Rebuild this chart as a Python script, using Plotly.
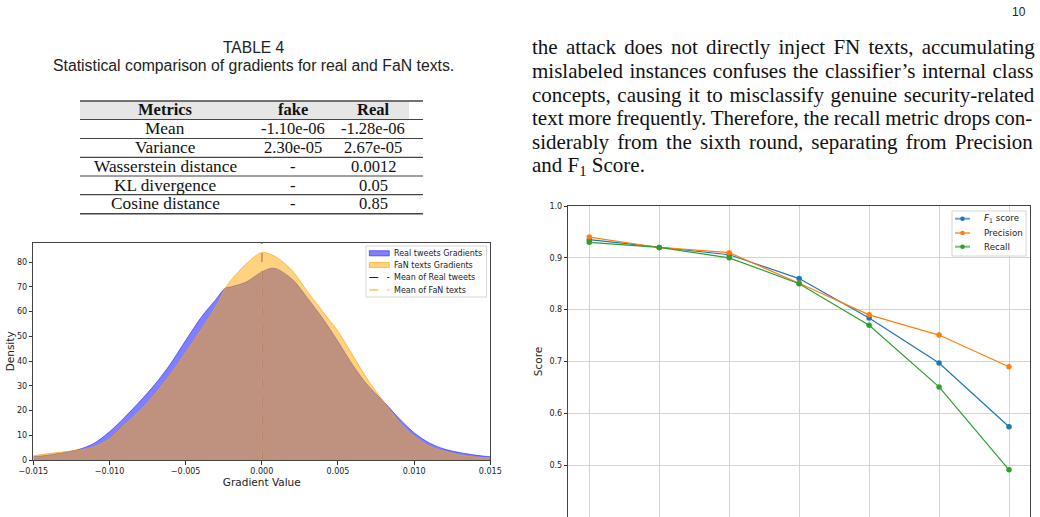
import plotly.graph_objects as go

# ---------------- data ----------------
grad_x = [-0.015, -0.014, -0.013, -0.012, -0.011, -0.010, -0.009, -0.008, -0.007, -0.006,
          -0.005, -0.004, -0.003, -0.0024, -0.002, -0.001, 0.000, 0.0008, 0.002, 0.003,
          0.004, 0.005, 0.006, 0.007, 0.008, 0.009, 0.010, 0.011, 0.012, 0.013, 0.014, 0.015]
real_density = [1.3, 2.0, 3.0, 4.3, 6.8, 11.4, 17.3, 23.7, 30.7, 38.8,
                 48.3, 57.5, 65.0, 69.4, 70.0, 72.0, 76.0, 77.5, 73.0, 65.4,
                 57.2, 47.9, 38.1, 29.9, 23.6, 16.9, 11.0, 6.9, 4.4, 3.0, 2.0, 1.3]
fan_density = [1.7, 2.6, 3.3, 4.0, 5.3, 8.6, 14.3, 20.0, 26.8, 34.6,
               43.4, 52.5, 62.1, 69.4, 72.8, 79.4, 83.8, 82.5, 76.5, 68.0,
               60.0, 52.0, 42.0, 32.0, 23.6, 15.6, 9.6, 5.6, 3.5, 2.0, 1.2, 0.8]
real_mean = -1.28e-06
fan_mean = -1.10e-06
grad_ticks = [-0.015, -0.010, -0.005, 0.000, 0.005, 0.010, 0.015]
grad_ticklabels = ["\u22120.015", "\u22120.010", "\u22120.005", "0.000", "0.005", "0.010", "0.015"]
density_ticks = [0, 10, 20, 30, 40, 50, 60, 70, 80]

rounds = [1, 2, 3, 4, 5, 6, 7]
f1_score = [0.935, 0.920, 0.906, 0.860, 0.784, 0.697, 0.574]
precision = [0.940, 0.920, 0.910, 0.851, 0.790, 0.751, 0.690]
recall = [0.930, 0.920, 0.900, 0.850, 0.770, 0.651, 0.491]
score_ticks = [0.4, 0.5, 0.6, 0.7, 0.8, 0.9, 1.0]

table_metrics = ["Mean", "Variance", "Wasserstein distance", "KL divergence", "Cosine distance"]
table_fake = ["-1.10e-06", "2.30e-05", "-", "-", "-"]
table_real = ["-1.28e-06", "2.67e-05", "0.0012", "0.05", "0.85"]

body_lines = [
    "the attack does not directly inject FN texts, accumulating",
    "mislabeled instances confuses the classifier\u2019s internal class",
    "concepts, causing it to misclassify genuine security-related",
    "text more frequently. Therefore, the recall metric drops con-",
    "siderably from the sixth round, separating from Precision",
    "and F<sub>1</sub> Score.",
]
# extra space between words (px) to justify each line as in the page
body_wordspacing = [3.0, 1.2, 1.4, -0.5, 2.9, 0]

# ---------------- helpers ----------------
W, H = 1040, 517
def px(x):
    return x / W
def py(y):
    return 1 - y / H

BLUE = "#1f77b4"; ORANGE = "#ff7f0e"; GREEN = "#2ca02c"
SANS = "DejaVu Sans"
SERIF = "Liberation Serif"
MEAN_ORANGE = "rgb(255,168,20)"

fig = go.Figure()

# KDE panel
fig.add_trace(go.Scatter(x=grad_x, y=real_density, mode="lines", fill="tozeroy",
                         fillcolor="rgba(0,0,255,0.5)",
                         line=dict(color="rgba(0,0,255,0.6)", width=0.8, shape="spline", smoothing=0.9),
                         xaxis="x", yaxis="y", showlegend=False, name="Real tweets Gradients"))
fig.add_trace(go.Scatter(x=grad_x, y=fan_density, mode="lines", fill="tozeroy",
                         fillcolor="rgba(255,165,0,0.5)",
                         line=dict(color="rgba(255,165,0,0.8)", width=0.8, shape="spline", smoothing=0.9),
                         xaxis="x", yaxis="y", showlegend=False, name="FaN texts Gradients"))
fig.add_trace(go.Scatter(x=[real_mean, real_mean], y=[0, 100], mode="lines",
                         line=dict(color="blue", width=1, dash="dash"),
                         xaxis="x", yaxis="y", showlegend=False, name="Mean of Real tweets"))
fig.add_trace(go.Scatter(x=[fan_mean, fan_mean], y=[0, 100], mode="lines",
                         line=dict(color=MEAN_ORANGE, width=1.3, dash="dash"),
                         xaxis="x", yaxis="y", showlegend=False, name="Mean of FaN texts"))

# Score panel
for vals, col, nm in [(f1_score, BLUE, "F1 score"), (precision, ORANGE, "Precision"), (recall, GREEN, "Recall")]:
    fig.add_trace(go.Scatter(x=rounds, y=vals, mode="lines+markers",
                             line=dict(color=col, width=1.2),
                             marker=dict(color=col, size=5.5),
                             xaxis="x2", yaxis="y2", showlegend=False, name=nm))

axis_common = dict(ticks="outside", ticklen=3.5, tickwidth=0.8, tickcolor="#333",
                   showline=True, linecolor="#444", linewidth=1, mirror=True,
                   zeroline=False, automargin=False,
                   tickfont=dict(family=SANS, size=8, color="#222"))

fig.update_layout(
    width=W, height=H, template="none",
    margin=dict(l=0, r=0, t=0, b=0),
    paper_bgcolor="white", plot_bgcolor="white",
    showlegend=False,
    xaxis=dict(domain=[px(33.3), px(490.3)], anchor="y", range=[-0.015, 0.015],
               tickvals=grad_ticks, ticktext=grad_ticklabels, showgrid=False,
               title=dict(text="Gradient Value", font=dict(family=SANS, size=10.5, color="#222"), standoff=2),
               **axis_common),
    yaxis=dict(domain=[py(460), py(242.7)], anchor="x", range=[0, 87.8],
               tickvals=density_ticks, showgrid=False,
               title=dict(text="Density", font=dict(family=SANS, size=10.5, color="#222"), standoff=0),
               **axis_common),
    xaxis2=dict(domain=[px(568.3), px(1030)], anchor="y2", range=[0.7, 7.3],
                tickvals=rounds, showticklabels=False, showgrid=True, gridcolor="#d4d4d4", gridwidth=1,
                **axis_common),
    yaxis2=dict(domain=[0, py(206)], anchor="x2", range=[0.4, 1.0],
                tickvals=score_ticks, tickformat=".1f", showgrid=True, gridcolor="#d4d4d4", gridwidth=1,
                title=dict(text="Score", font=dict(family=SANS, size=10.5, color="#222"), standoff=4),
                **axis_common),
)

shapes = []
annotations = []

def text(x, y, s, size, family, color="#111", xanchor="center", yanchor="middle"):
    annotations.append(dict(x=px(x), y=py(y), xref="paper", yref="paper", text=s, showarrow=False,
                            xanchor=xanchor, yanchor=yanchor,
                            font=dict(family=family, size=size, color=color)))

def line(x0, y0, x1, y1, color, width, dash="solid", opacity=1.0):
    shapes.append(dict(type="line", xref="paper", yref="paper", x0=px(x0), y0=py(y0), x1=px(x1), y1=py(y1),
                       line=dict(color=color, width=width, dash=dash), opacity=opacity))

def rect(x0, y0, x1, y1, fill, color, width):
    shapes.append(dict(type="rect", xref="paper", yref="paper", x0=px(x0), y0=py(y0), x1=px(x1), y1=py(y1),
                       fillcolor=fill, line=dict(color=color, width=width), layer="above"))

# page number, caption
text(1019, 12, "10", 12, "Liberation Sans", color="#222")
text(253.5, 47, "TABLE 4", 15.6, "Liberation Sans", color="#222")
text(253.5, 66, "Statistical comparison of gradients for real and FaN texts.", 15.8, "Liberation Sans", color="#222")

# table
shapes.append(dict(type="rect", xref="paper", yref="paper", x0=px(80), y0=py(101), x1=px(409), y1=py(119.5),
                   fillcolor="#e6e6e6", line=dict(width=0), layer="below"))
rule_y = [101, 119.5, 138.5, 157.3, 176, 194.7, 213.7]
for i, yy in enumerate(rule_y):
    w = 1.6 if i in (0, len(rule_y) - 1) else 1.2
    line(80, yy, 423, yy, "#444", w)
col_x = [165, 293, 373]
text(col_x[0], 109.5, "<b>Metrics</b>", 16.5, SERIF)
text(col_x[1], 109.5, "<b>fake</b>", 16.5, SERIF)
text(col_x[2], 109.5, "<b>Real</b>", 16.5, SERIF)
row_y = [128.5, 147.5, 166.3, 185, 203.7]
for m, f, r, yy in zip(table_metrics, table_fake, table_real, row_y):
    text(col_x[0], yy, m, 17.3, SERIF)
    text(col_x[1], yy, f, 16.5, SERIF)
    text(col_x[2], yy, r, 16.5, SERIF)

# body text
body_y = [47.3, 71, 94.7, 118.3, 142.3, 165.5]
for s, ws, yy in zip(body_lines, body_wordspacing, body_y):
    styled = "<span style=\"word-spacing:%.1fpx\">%s</span>" % (ws, s) if ws else s
    text(530, yy, styled, 21, SERIF, xanchor="left")

# KDE legend
rect(366, 246, 486.5, 297, "rgba(255,255,255,0.8)", "#d6d6d6", 1)
rect(369.3, 250.7, 389.3, 255.9, "rgba(0,0,255,0.5)", "rgba(0,0,255,0.6)", 0.8)
rect(369.3, 262.4, 389.3, 267.6, "rgba(255,165,0,0.5)", "rgba(255,165,0,0.8)", 0.8)
line(369.3, 277.5, 389.3, 277.5, "blue", 1, dash="dash")
line(369.3, 290, 389.3, 290, MEAN_ORANGE, 1, dash="dash")
leg1 = ["Real tweets Gradients", "FaN texts Gradients", "Mean of Real tweets", "Mean of FaN texts"]
for s, yy in zip(leg1, [253.3, 265, 277.5, 290]):
    text(392, yy, s, 8, SANS, color="#222", xanchor="left")

# score legend
rect(952, 211, 1026, 256, "rgba(255,255,255,0.8)", "#d6d6d6", 1)
leg2 = ["<i>F</i><sub>1</sub> score", "Precision", "Recall"]
for s, col, yy in zip(leg2, [BLUE, ORANGE, GREEN], [218.7, 233, 246.7]):
    line(955, yy, 970, yy, col, 2, opacity=0.65)
    shapes.append(dict(type="circle", xref="paper", yref="paper",
                       x0=px(960.2), x1=px(964.8), y0=py(yy + 2.3), y1=py(yy - 2.3),
                       fillcolor=col, line=dict(color=col, width=0)))
    text(981.7, yy, s, 8.7, SANS, color="#222", xanchor="left")

fig.update_layout(shapes=shapes, annotations=annotations)
fig.write_html("out.html")
